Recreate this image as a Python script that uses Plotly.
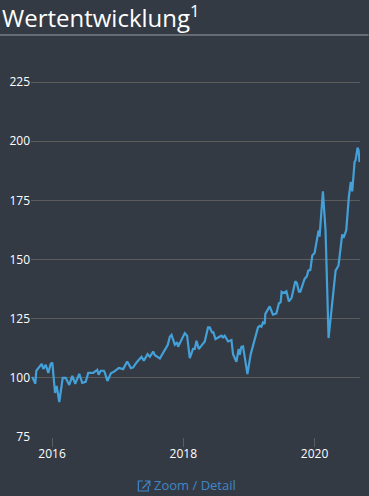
import plotly.graph_objects as go

years = [2015.70,2015.746,2015.761,2015.843,2015.868,2015.904,2015.944,2015.980,2016.005,2016.046,2016.071,2016.087,2016.111,2016.163,2016.208,2016.263,2016.309,2016.354,2016.415,2016.461,2016.513,2016.552,2016.628,2016.689,2016.710,2016.741,2016.791,2016.806,2016.844,2016.897,2016.951,2017.019,2017.084,2017.145,2017.202,2017.237,2017.288,2017.364,2017.399,2017.456,2017.491,2017.541,2017.567,2017.643,2017.719,2017.764,2017.795,2017.821,2017.871,2017.906,2017.921,2018.023,2018.058,2018.099,2018.149,2018.175,2018.201,2018.236,2018.277,2018.327,2018.377,2018.403,2018.438,2018.459,2018.490,2018.581,2018.605,2018.631,2018.682,2018.733,2018.758,2018.809,2018.844,2018.860,2018.885,2018.910,2018.977,2019.027,2019.138,2019.164,2019.190,2019.214,2019.240,2019.250,2019.316,2019.366,2019.418,2019.457,2019.483,2019.498,2019.529,2019.570,2019.609,2019.650,2019.707,2019.731,2019.761,2019.783,2019.848,2019.883,2019.904,2019.935,2019.965,2020.000,2020.061,2020.076,2020.127,2020.167,2020.213,2020.244,2020.289,2020.320,2020.365,2020.421,2020.441,2020.482,2020.522,2020.552,2020.574,2020.609,2020.624,2020.655,2020.670,2020.685]
values = [100.4,97.5,103.0,105.9,103.8,105.5,102.1,105.9,106.4,93.6,96.6,93.2,89.8,100.0,100.0,97.0,100.8,97.5,101.7,97.9,98.3,102.1,102.1,103.4,101.3,103.0,103.0,102.1,98.7,101.9,102.7,104.2,103.7,106.9,104.1,104.4,106.5,108.9,107.2,110.0,108.9,111.1,109.6,108.2,112.2,114.0,117.4,118.2,114.0,115.0,113.1,118.9,117.8,108.3,112.2,112.2,115.7,112.2,113.6,115.4,121.3,121.3,119.2,119.2,116.4,117.8,117.1,117.8,115.4,116.0,110.0,106.8,112.2,109.7,113.1,113.3,101.6,110.0,121.3,122.0,121.6,123.4,122.8,127.0,130.2,126.7,127.2,131.5,131.9,136.4,135.9,136.6,132.3,133.8,140.8,140.0,136.4,136.4,141.8,142.9,145.3,145.6,151.7,152.8,162.3,159.7,178.8,162.3,116.8,124.9,136.9,145.3,147.5,160.6,159.2,162.3,176.4,182.8,178.8,191.2,191.9,197.3,196.2,191.2]
y_ticks = [75,100,125,150,175,200,225]
x_ticks = [2016,2018,2020]
x_labels = ["2016","2018","2020"]

W, H = 369, 496
TOP, BOTTOM = 61, 59
PW, PH = 329.5, H - TOP - BOTTOM
BG = "#343a44"; GRID = "#5c5c5c"; FONT = "Open Sans"; LINK = "#3f87c6"

def px(x):
    return (x - 31) / PW

def py(y):
    return (H - BOTTOM - y) / PH

fig = go.Figure(go.Scatter(x=years, y=values, mode="lines", hoverinfo="skip",
                           line=dict(color="#44a0d8", width=2.2)))
fig.update_layout(
    width=W, height=H, paper_bgcolor=BG, plot_bgcolor=BG, showlegend=False,
    margin=dict(l=31, r=8.5, t=TOP, b=BOTTOM),
    font=dict(family=FONT, color="#ffffff", size=12),
    xaxis=dict(range=[2015.68, 2020.692], tickmode="array", tickvals=x_ticks, ticktext=x_labels,
               showgrid=False, zeroline=False, showline=False, ticks="outside", ticklen=9, tickwidth=1,
               tickcolor=GRID, ticklabelstandoff=-3, tickfont=dict(size=12, family=FONT, color="#ffffff")),
    yaxis=dict(range=[75, 225 + (82 - TOP) / 2.36], tickmode="array", tickvals=y_ticks, showgrid=True, gridcolor=GRID,
               gridwidth=1, zeroline=False, showline=False, ticks="",
               tickfont=dict(size=12, family=FONT, color="#ffffff")),
    annotations=[
        dict(text="Wertentwicklung<sup>1</sup>", xref="paper", yref="paper", x=px(0), xanchor="left",
             y=py(-3), yanchor="top", showarrow=False, font=dict(size=24, family=FONT, color="#ffffff")),
        dict(text="Zoom / Detail", xref="paper", yref="paper", x=px(152), xanchor="left",
             y=py(485), yanchor="middle", showarrow=False, font=dict(size=13, family=FONT, color=LINK)),
    ],
    shapes=[
        dict(type="line", xref="paper", yref="paper", x0=px(0), x1=px(369),
             y0=py(35), y1=py(35), line=dict(color="#9a9da2", width=1)),
        dict(type="path", xref="paper", yref="paper", line=dict(color=LINK, width=1.2),
             path=f"M {px(143):.4f},{py(481):.4f} L {px(138.5):.4f},{py(481):.4f} L {px(138.5):.4f},{py(491):.4f} "
                  f"L {px(148.5):.4f},{py(491):.4f} L {px(148.5):.4f},{py(486):.4f}"),
        dict(type="path", xref="paper", yref="paper", line=dict(color=LINK, width=1.2),
             path=f"M {px(145):.4f},{py(481):.4f} L {px(150):.4f},{py(481):.4f} L {px(150):.4f},{py(486):.4f} "
                  f"M {px(150):.4f},{py(481):.4f} L {px(142.5):.4f},{py(488.5):.4f}"),
    ],
)
page_fix = "document.documentElement.style.background='%s';document.body.style.margin='0';document.body.style.background='%s';document.body.style.overflow='hidden';" % (BG, BG)
fig.write_html("out.html", config=dict(displayModeBar=False), post_script=page_fix)
